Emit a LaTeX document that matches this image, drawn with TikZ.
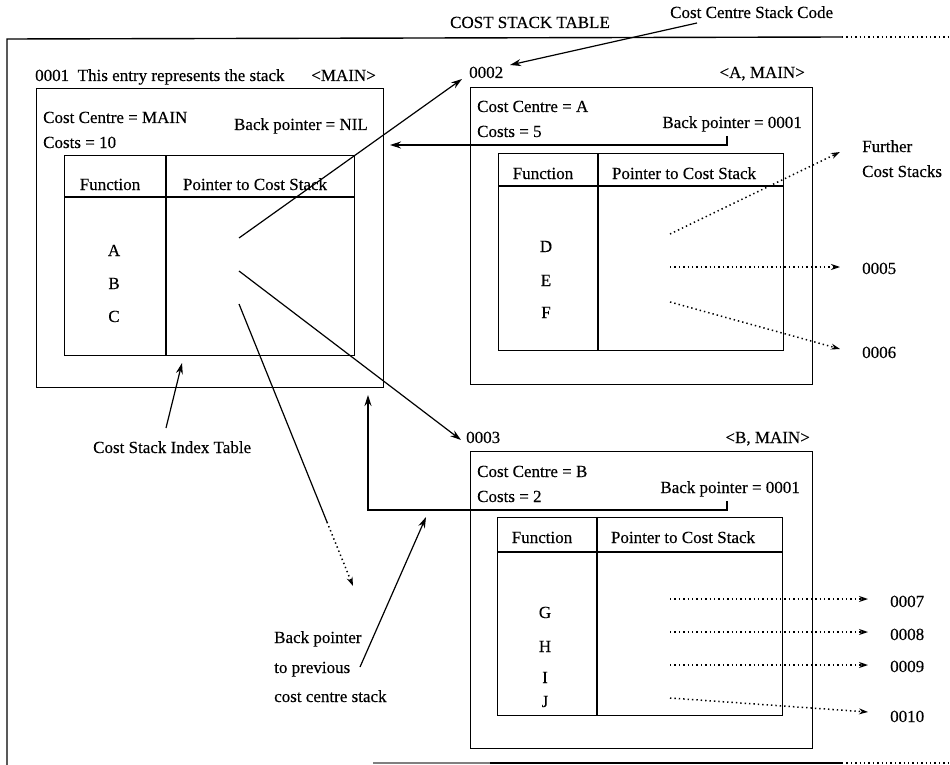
\documentclass[tikz,border=0pt]{standalone}
\usepackage{fontspec}
\setmainfont[FakeBold=0.3]{Liberation Serif}
\usetikzlibrary{arrows.meta}
\begin{document}
\begin{tikzpicture}[x=1pt,y=-1pt,
  every node/.style={font=\fontsize{17}{20}\selectfont, inner sep=0pt},
  lbl/.style={anchor=base west},
  lblr/.style={anchor=base east},
  lblc/.style={anchor=base},
  boxst/.style={draw, line width=1.4pt, anchor=north west},
  rule/.style={line width=1.4pt},
  solidarr/.style={line width=1.2pt, -{Stealth[length=11pt,width=7pt]}},
  dotarr/.style={line width=1.5pt, dash pattern=on 1.4pt off 3pt, -{Stealth[open,length=9pt,width=6pt,line width=1.2pt]}},
  dotline/.style={line width=1.5pt, dash pattern=on 1.4pt off 3pt}]
\useasboundingbox (0,0) rectangle (950,765);

% outer frame
\draw[rule] (7,765) -- (7,39) -- (842,37);
\draw[dotline] (842,37) -- (950,37);
\draw[rule, black!50] (373,763) -- (490,763);
\draw[rule] (490,763) -- (842,763);
\draw[dotline] (842,763) -- (950,763);

% titles
\node[lblc] (title) at (530,28) {COST STACK TABLE};
\node[lbl] (code) at (670,18) {Cost Centre Stack Code};

% ---------- box 0001 ----------
\node[lbl] (l1) at (35,81) {0001\hspace{0.5em}This entry represents the stack};
\node[lblr] (s1) at (376,81) {<MAIN>};
\node[boxst, minimum width=347pt, minimum height=299pt] (b1) at (36,88) {};
\node[lbl] (cc1) at (43,123) {Cost Centre = MAIN};
\node[lbl] (co1) at (43,148) {Costs = 10};
\node[lblr] (bp1) at (368,130) {Back pointer = NIL};
\node[boxst, minimum width=290pt, minimum height=200pt] (t1) at (64,155) {};
\draw[rule] (64,197) -- (354,197);
\draw[rule] (166,155) -- (166,355);
\node[lblc] (fh1) at (110,190) {Function};
\node[lblc] (ph1) at (255,190) {Pointer to Cost Stack};
\node[lblc] (fa) at (114,256) {A};
\node[lblc] (fb) at (114,289) {B};
\node[lblc] (fc) at (114,322) {C};

% ---------- box 0002 ----------
\node[lbl] (l2) at (469,78) {0002};
\node[lblr] (s2) at (805,78) {<A, MAIN>};
\node[boxst, minimum width=342pt, minimum height=297pt] (b2) at (470,87) {};
\node[lbl] (cc2) at (477,112) {Cost Centre = A};
\node[lbl] (co2) at (477,137) {Costs = 5};
\node[lblr] (bp2) at (802,128) {Back pointer = 0001};
\node[boxst, minimum width=285pt, minimum height=197pt] (t2) at (498,153) {};
\draw[rule] (498,186) -- (783,186);
\draw[rule] (598,153) -- (598,350);
\node[lblc] (fh2) at (543,179) {Function};
\node[lblc] (ph2) at (684,179) {Pointer to Cost Stack};
\node[lblc] (fd) at (546,252) {D};
\node[lblc] (fe) at (546,286) {E};
\node[lblc] (ff) at (546,318) {F};

% ---------- box 0003 ----------
\node[lbl] (l3) at (466,443) {0003};
\node[lblr] (s3) at (810,443) {<B, MAIN>};
\node[boxst, minimum width=342pt, minimum height=297pt] (b3) at (470,451) {};
\node[lbl] (cc3) at (477,477) {Cost Centre = B};
\node[lbl] (co3) at (477,502) {Costs = 2};
\node[lblr] (bp3) at (800,493) {Back pointer = 0001};
\node[boxst, minimum width=285pt, minimum height=198pt] (t3) at (497,517) {};
\draw[rule] (497,552) -- (782,552);
\draw[rule] (597,517) -- (597,715);
\node[lblc] (fh3) at (542,543) {Function};
\node[lblc] (ph3) at (683,543) {Pointer to Cost Stack};
\node[lblc] (fg) at (545,618) {G};
\node[lblc] (fh) at (545,652) {H};
\node[lblc] (fi) at (545,683) {I};
\node[lblc] (fj) at (545,707) {J};

% ---------- side labels ----------
\node[lbl] (fur) at (862,152) {Further};
\node[lbl] (fur2) at (862,177) {Cost Stacks};
\node[lbl] (n5) at (862,274) {0005};
\node[lbl] (n6) at (862,358) {0006};
\node[lbl] (n7) at (890,607) {0007};
\node[lbl] (n8) at (890,640) {0008};
\node[lbl] (n9) at (890,672) {0009};
\node[lbl] (n10) at (890,722) {0010};
\node[lbl] (idx) at (93,453) {Cost Stack Index Table};
\node[lbl] (bpa) at (274,643) {Back pointer};
\node[lbl] (bpb) at (274,673) {to previous};
\node[lbl] (bpc) at (274,702) {cost centre stack};

% ---------- coordinates ----------
\coordinate (codeS) at (697,23);
\coordinate (codeE) at (510,65);
\coordinate (pA) at (239,238);
\coordinate (pB) at (239,271);
\coordinate (pC) at (239,304);
\coordinate (tA) at (462,79);
\coordinate (tB) at (461,440);
\coordinate (mC) at (327,522);
\coordinate (tC) at (353,586);
\coordinate (idxS) at (166,428);
\coordinate (idxE) at (182,363);
\coordinate (bptS) at (360,667);
\coordinate (bptE) at (426,517);
\coordinate (bp2a) at (727,136);
\coordinate (bp2b) at (727,145);
\coordinate (bp2e) at (390,145);
\coordinate (bp3a) at (727,501);
\coordinate (bp3b) at (727,510);
\coordinate (bp3c) at (368,510);
\coordinate (bp3e) at (368,395);
\coordinate (pD) at (670,234);
\coordinate (pE) at (670,267);
\coordinate (pF) at (670,302);
\coordinate (pG) at (670,599);
\coordinate (pH) at (670,632);
\coordinate (pI) at (670,665);
\coordinate (pJ) at (670,698);
\coordinate (eD) at (840,152);
\coordinate (eE) at (840,267);
\coordinate (eF) at (840,349);
\coordinate (eG) at (868,599);
\coordinate (eH) at (868,632);
\coordinate (eI) at (868,665);
\coordinate (eJ) at (868,712);

% ---------- solid arrows ----------
\draw[solidarr] (codeS) -- (codeE);
\draw[solidarr] (pA) -- (tA);
\draw[solidarr] (pB) -- (tB);
\draw[line width=1.2pt] (pC) -- (mC);
\draw[dotarr] (mC) -- (tC);
\draw[solidarr] (idxS) -- (idxE);
\draw[solidarr] (bptS) -- (bptE);
\draw[solidarr] (bp2a) -- (bp2b) -- (bp2e);
\draw[solidarr] (bp3a) -- (bp3b) -- (bp3c) -- (bp3e);

% ---------- dotted arrows ----------
\draw[dotarr] (pD) -- (eD);
\draw[dotarr] (pE) -- (eE);
\draw[dotarr] (pF) -- (eF);
\draw[dotarr] (pG) -- (eG);
\draw[dotarr] (pH) -- (eH);
\draw[dotarr] (pI) -- (eI);
\draw[dotarr] (pJ) -- (eJ);
\end{tikzpicture}
\end{document}
